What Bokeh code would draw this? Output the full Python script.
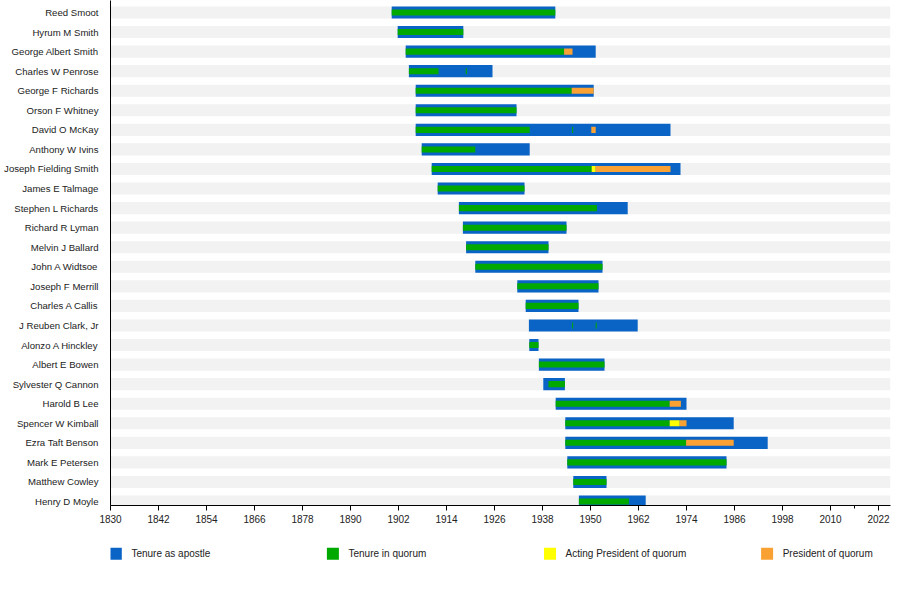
from bokeh.plotting import figure
from bokeh.models import Range1d, FixedTicker, ColumnDataSource
from bokeh.layouts import column
from bokeh.embed import file_html
from bokeh.resources import INLINE
from bokeh.core.properties import value

# ---------------- data ----------------
names = ["Reed Smoot", "Hyrum M Smith", "George Albert Smith", "Charles W Penrose",
         "George F Richards", "Orson F Whitney", "David O McKay", "Anthony W Ivins",
         "Joseph Fielding Smith", "James E Talmage", "Stephen L Richards", "Richard R Lyman",
         "Melvin J Ballard", "John A Widtsoe", "Joseph F Merrill", "Charles A Callis",
         "J Reuben Clark, Jr", "Alonzo A Hinckley", "Albert E Bowen", "Sylvester Q Cannon",
         "Harold B Lee", "Spencer W Kimball", "Ezra Taft Benson", "Mark E Petersen",
         "Matthew Cowley", "Henry D Moyle"]

apostle_start = [1900.3, 1901.8, 1903.8, 1904.6, 1906.3, 1906.3, 1906.3, 1907.8,
                 1910.3, 1911.8, 1917.1, 1918.1, 1918.9, 1921.2, 1931.7, 1933.8,
                 1934.6, 1934.7, 1937.1, 1938.2, 1941.3, 1943.7, 1943.7, 1944.2,
                 1945.7, 1947.1]
apostle_end = [1941.2, 1918.2, 1951.3, 1925.5, 1950.8, 1931.5, 1970.0, 1934.8,
               1972.5, 1933.5, 1959.3, 1944.0, 1939.5, 1953.0, 1952.0, 1947.0,
               1961.8, 1937.0, 1953.5, 1943.6, 1974.0, 1985.8, 1994.3, 1984.0,
               1954.0, 1963.8]

quorum_name = ["Reed Smoot", "Hyrum M Smith", "George Albert Smith", "Charles W Penrose",
               "Charles W Penrose", "George F Richards", "Orson F Whitney", "David O McKay",
               "David O McKay", "Anthony W Ivins", "Joseph Fielding Smith", "James E Talmage",
               "Stephen L Richards", "Richard R Lyman", "Melvin J Ballard", "John A Widtsoe",
               "Joseph F Merrill", "Charles A Callis", "J Reuben Clark, Jr", "J Reuben Clark, Jr",
               "Alonzo A Hinckley", "Albert E Bowen", "Sylvester Q Cannon", "Harold B Lee",
               "Spencer W Kimball", "Ezra Taft Benson", "Mark E Petersen", "Matthew Cowley",
               "Henry D Moyle"]
quorum_start = [1900.3, 1901.8, 1903.8, 1904.6, 1918.8, 1906.3, 1906.3, 1906.3,
                1945.4, 1907.8, 1910.3, 1911.8, 1917.1, 1918.1, 1918.9, 1921.2,
                1931.7, 1933.8, 1945.4, 1951.3, 1934.7, 1937.1, 1939.5, 1941.3,
                1943.7, 1943.7, 1944.2, 1945.7, 1947.1]
quorum_end = [1941.2, 1918.2, 1943.4, 1912.0, 1919.1, 1945.3, 1931.5, 1934.8,
              1945.65, 1921.2, 1950.3, 1933.5, 1951.6, 1944.0, 1939.5, 1953.0,
              1952.0, 1947.0, 1945.65, 1951.55, 1937.0, 1953.5, 1943.6, 1969.8,
              1969.8, 1973.9, 1984.0, 1954.0, 1959.6]

acting_name = ["Joseph Fielding Smith", "Spencer W Kimball"]
acting_start = [1950.3, 1969.8]
acting_end = [1951.3, 1972.3]

president_name = ["George Albert Smith", "George F Richards", "David O McKay",
                  "Joseph Fielding Smith", "Harold B Lee", "Spencer W Kimball",
                  "Ezra Taft Benson"]
president_start = [1943.4, 1945.3, 1950.2, 1951.3, 1969.8, 1972.3, 1973.9]
president_end = [1945.5, 1950.8, 1951.3, 1970.0, 1972.6, 1974.0, 1985.8]

tick_years = [1830, 1842, 1854, 1866, 1878, 1890, 1902, 1914, 1926, 1938,
              1950, 1962, 1974, 1986, 1998, 2010, 2022]
minor_years = [2016]

legend_labels = ["Tenure as apostle", "Tenure in quorum",
                 "Acting President of quorum", "President of quorum"]

# ---------------- styles ----------------
BLUE = "#0a64c6"
GREEN = "#00a900"
YELLOW = "#ffff00"
ORANGE = "#f9a233"
STRIPE = "#f2f2f2"
FONT = "Liberation Sans"
TXT = "#222222"
legend_colors = [BLUE, GREEN, YELLOW, ORANGE]

W = 892
BL, BR = 110, 2
X0, X1 = 1830, 2025
n = len(names)
row_y = {nm: n - 1 - i for i, nm in enumerate(names)}

p = figure(width=W, height=535, title=None,
           x_range=Range1d(X0, X1), y_range=Range1d(-0.2045, n - 1 + 0.6135),
           output_backend="svg", toolbar_location=None,
           min_border_left=BL, min_border_right=BR, min_border_top=0, min_border_bottom=30)
p.outline_line_color = None
p.grid.visible = False

ys = [row_y[nm] for nm in names]
p.hbar(y=ys, left=[X0] * n, right=[X1] * n, height=0.62, fill_color=STRIPE, line_color=None)
p.hbar(y=ys, left=apostle_start, right=apostle_end, height=0.62,
       fill_color=BLUE, line_color=None)
p.hbar(y=[row_y[nm] for nm in quorum_name], left=quorum_start, right=quorum_end,
       height=0.31, fill_color=GREEN, line_color=None)
p.hbar(y=[row_y[nm] for nm in acting_name], left=acting_start, right=acting_end,
       height=0.31, fill_color=YELLOW, line_color=None)
p.hbar(y=[row_y[nm] for nm in president_name], left=president_start,
       right=president_end, height=0.31, fill_color=ORANGE, line_color=None)

xa = p.xaxis[0]
xa.ticker = FixedTicker(ticks=tick_years, minor_ticks=minor_years)
xa.axis_line_color = "black"
xa.major_tick_line_color = "black"
xa.minor_tick_line_color = "black"
xa.major_tick_out = 5
xa.major_tick_in = 0
xa.minor_tick_out = 3
xa.minor_tick_in = 0
xa.major_label_standoff = 4
xa.major_label_text_font = FONT
xa.major_label_text_font_size = "10px"
xa.major_label_text_color = TXT

ya = p.yaxis[0]
ya.ticker = FixedTicker(ticks=list(range(n)))
ya.major_label_overrides = {row_y[nm]: nm for nm in names}
ya.axis_line_color = "black"
ya.major_tick_line_color = None
ya.minor_tick_line_color = None
ya.major_label_standoff = 6
ya.major_label_text_font = FONT
ya.major_label_text_font_size = "9.6px"
ya.major_label_text_color = TXT

# ---------------- legend strip (x in page pixels) ----------------
LH = 40
lg = figure(width=W, height=LH, x_range=Range1d(BL, W - BR), y_range=Range1d(0, LH),
            output_backend="svg", toolbar_location=None, title=None,
            min_border_left=BL, min_border_right=BR, min_border_top=0, min_border_bottom=0,
            x_axis_location=None, y_axis_location=None)
lg.outline_line_color = None
lg.grid.visible = False
k = len(legend_labels)
sx = [115.3 + 217.1 * i for i in range(k)]
src = ColumnDataSource(dict(x=sx, tx=[v + 15.6 for v in sx], y=[LH - 18.3] * k,
                            c=legend_colors, t=legend_labels))
lg.rect(x="x", y="y", width=12, height=12, width_units="screen", height_units="screen",
        fill_color="c", line_color=None, source=src)
lg.text(x="tx", y="y", text="t", text_font=value(FONT), text_font_size="10px",
        text_baseline="middle", text_align="left", text_color=TXT, source=src)

layout = column(p, lg, spacing=0)
open("out.html", "w").write(file_html(layout, INLINE))
